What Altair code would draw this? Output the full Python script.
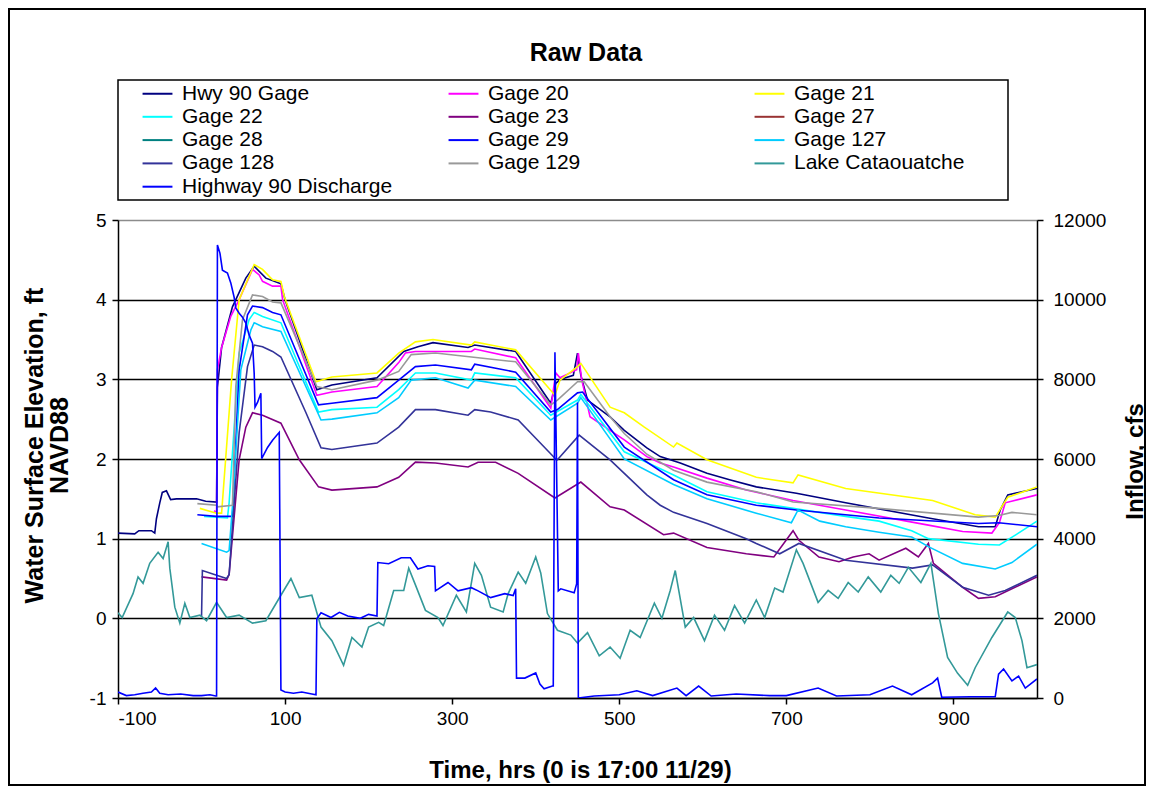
import altair as alt
import pandas as pd

FONT = "Liberation Sans"

series_names = ["Hwy 90 Gage", "Gage 20", "Gage 21", "Gage 22", "Gage 23", "Gage 27",
                "Gage 28", "Gage 29", "Gage 127", "Gage 128", "Gage 129",
                "Lake Cataouatche", "Highway 90 Discharge"]
series_colors = ["#000080", "#FF00FF", "#FFFF00", "#00FFFF", "#800080", "#993333",
                 "#008080", "#0000FF", "#00CCFF", "#333399", "#999999",
                 "#339999", "#0000FF"]

x_ticks = [-100, 100, 300, 500, 700, 900]
y_ticks = [-1, 0, 1, 2, 3, 4, 5]
cfs_ticks = [0, 2000, 4000, 6000, 8000, 10000, 12000]

hwy90_t = [-100, -80, -75, -60, -56, -54, -50, -47, -42, -37, -30, -6, 5, 18, 19, 24, 37, 53, 63, 77,
           95, 100, 138, 156, 210, 242, 259, 277, 319, 327, 376, 418, 424, 430, 445, 450, 454, 462, 489, 506,
           533, 549, 573, 605, 632, 664, 712, 771, 870, 930, 950, 956, 965, 1000]
hwy90_v = [1.07, 1.06, 1.10, 1.10, 1.07, 1.25, 1.45, 1.58, 1.60, 1.49, 1.50, 1.50, 1.47, 1.46, 2.90, 3.40, 3.91, 4.27, 4.42, 4.27,
           4.20, 4.00, 2.87, 2.93, 3.02, 3.35, 3.41, 3.46, 3.40, 3.43, 3.35, 2.70, 2.95, 3.00, 3.05, 3.33, 3.05, 2.74, 2.53, 2.36,
           2.14, 2.03, 1.95, 1.82, 1.74, 1.65, 1.57, 1.45, 1.26, 1.15, 1.15, 1.36, 1.55, 1.63]

g20_t = [15, 18, 19, 24, 35, 45, 61, 69, 73, 85, 95, 97, 138, 156, 210, 236, 244, 256, 323, 327,
         376, 418, 424, 429, 445, 449, 451, 455, 465, 489, 506, 533, 549, 565, 605, 652, 708, 771, 870, 911,
         946, 955, 962, 1000]
g20_v = [1.35, 1.33, 3.12, 3.40, 3.79, 4.00, 4.38, 4.31, 4.23, 4.17, 4.17, 4.00, 2.80, 2.84, 2.91, 3.21, 3.33, 3.35, 3.35, 3.38,
         3.27, 2.64, 3.08, 3.02, 3.10, 3.12, 3.33, 3.00, 2.53, 2.36, 2.24, 2.03, 1.95, 1.90, 1.76, 1.61, 1.48, 1.36, 1.17, 1.09,
         1.07, 1.20, 1.45, 1.55]

g21_t = [-2, 18, 24, 36, 45, 63, 73, 85, 95, 99, 137, 156, 210, 236, 256, 277, 323, 327, 346, 376,
         423, 429, 450, 454, 489, 506, 530, 565, 569, 605, 664, 708, 714, 771, 875, 926, 950, 965, 1000]
g21_v = [1.38, 1.32, 1.32, 3.00, 4.00, 4.44, 4.38, 4.25, 4.23, 4.04, 2.97, 3.03, 3.08, 3.33, 3.47, 3.50, 3.43, 3.47, 3.43, 3.37,
         2.80, 2.99, 3.16, 3.20, 2.65, 2.58, 2.40, 2.15, 2.20, 1.99, 1.77, 1.70, 1.80, 1.63, 1.48, 1.30, 1.27, 1.52, 1.65]

g22_t = [3, 18, 31, 33, 45, 57, 63, 73, 95, 140, 156, 210, 236, 256, 280, 323, 327, 376, 418, 450,
         454, 506, 565, 605, 664, 708, 771, 811, 850, 870, 930, 955, 975, 1000]
g22_v = [1.28, 1.27, 1.26, 1.45, 3.33, 3.75, 3.84, 3.79, 3.71, 2.59, 2.62, 2.65, 2.87, 3.08, 3.08, 2.99, 3.08, 3.02, 2.55, 2.74,
         2.81, 2.09, 1.80, 1.59, 1.45, 1.38, 1.28, 1.22, 1.10, 1.00, 0.93, 0.92, 1.05, 1.22]

g23_t = [0, 30, 33, 45, 53, 61, 73, 95, 117, 140, 156, 210, 236, 256, 280, 319, 331, 352, 379, 423,
         454, 489, 506, 553, 565, 605, 652, 685, 708, 715, 739, 763, 780, 799, 811, 843, 858, 870, 876, 911,
         930, 950, 1000]
g23_v = [0.52, 0.48, 0.55, 1.99, 2.40, 2.58, 2.55, 2.45, 1.99, 1.65, 1.61, 1.65, 1.77, 1.96, 1.95, 1.90, 1.96, 1.96, 1.82, 1.51,
         1.71, 1.40, 1.36, 1.05, 1.07, 0.89, 0.81, 0.77, 1.10, 0.98, 0.77, 0.71, 0.77, 0.81, 0.73, 0.88, 0.77, 0.94, 0.69, 0.39,
         0.25, 0.27, 0.52]

g29_t = [-5, 18, 37, 45, 55, 61, 73, 85, 95, 140, 156, 210, 236, 256, 280, 323, 327, 376, 418, 426,
         450, 456, 506, 565, 605, 664, 712, 811, 930, 954, 1000]
g29_v = [1.30, 1.28, 1.28, 3.12, 3.81, 3.92, 3.90, 3.84, 3.81, 2.68, 2.70, 2.77, 2.99, 3.16, 3.18, 3.12, 3.19, 3.09, 2.59, 2.62,
         2.83, 2.84, 2.15, 1.74, 1.55, 1.42, 1.36, 1.26, 1.19, 1.20, 1.15]

g127_t = [0, 30, 33, 37, 47, 59, 63, 73, 95, 143, 156, 210, 236, 251, 280, 319, 327, 376, 418, 450,
          454, 506, 565, 605, 664, 706, 714, 740, 771, 811, 850, 870, 911, 950, 970, 1000]
g127_v = [0.94, 0.83, 0.85, 1.40, 3.12, 3.62, 3.71, 3.66, 3.60, 2.49, 2.50, 2.58, 2.77, 2.99, 3.02, 2.89, 2.99, 2.91, 2.49, 2.70,
          2.77, 2.00, 1.68, 1.50, 1.32, 1.20, 1.36, 1.22, 1.15, 1.08, 1.02, 0.90, 0.69, 0.62, 0.70, 0.93]

g128_t = [0, 1, 30, 33, 45, 55, 63, 73, 85, 95, 125, 143, 156, 210, 236, 256, 280, 319, 327, 346,
          379, 423, 426, 452, 489, 506, 533, 549, 565, 605, 652, 664, 692, 715, 771, 851, 875, 911, 942, 962,
          1000]
g128_v = [0.02, 0.60, 0.50, 0.55, 2.33, 3.16, 3.43, 3.41, 3.35, 3.28, 2.58, 2.14, 2.12, 2.20, 2.40, 2.62, 2.62, 2.55, 2.62, 2.59,
          2.49, 2.01, 1.99, 2.30, 1.99, 1.82, 1.55, 1.42, 1.33, 1.19, 1.00, 0.94, 0.81, 0.94, 0.73, 0.63, 0.67, 0.39, 0.29, 0.35,
          0.54]

g129_t = [-5, 18, 19, 37, 41, 49, 61, 73, 85, 95, 138, 156, 210, 236, 251, 280, 323, 376, 418, 426,
          450, 458, 489, 506, 533, 565, 605, 664, 708, 811, 930, 954, 970, 1000]
g129_v = [1.44, 1.42, 1.40, 1.42, 2.91, 3.75, 4.06, 4.04, 3.97, 3.96, 2.91, 2.87, 2.99, 3.10, 3.31, 3.33, 3.28, 3.22, 2.68, 2.74,
          2.97, 2.97, 2.53, 2.32, 2.06, 1.86, 1.71, 1.59, 1.46, 1.38, 1.27, 1.29, 1.33, 1.30]

lake_t = [-100, -95, -82, -76, -70, -62, -52, -46, -40, -38, -32, -26, -20, -14, -2, 6, 18, 30, 45, 61,
          77, 95, 107, 117, 132, 143, 156, 170, 180, 192, 200, 212, 218, 230, 242, 248, 256, 268, 283, 289,
          305, 317, 327, 335, 346, 361, 367, 379, 388, 400, 406, 414, 426, 442, 450, 462, 476, 489, 501, 513,
          525, 542, 551, 561, 567, 579, 589, 602, 614, 626, 638, 650, 664, 674, 686, 696, 712, 720, 738, 750,
          762, 774, 786, 798, 813, 825, 835, 846, 861, 873, 882, 893, 905, 917, 926, 946, 965, 974, 982, 988,
          1000]
lake_v = [0.07, 0.01, 0.31, 0.52, 0.44, 0.69, 0.83, 0.75, 0.96, 0.63, 0.14, -0.06, 0.19, 0.01, 0.04, -0.03, 0.20, 0.01, 0.04, -0.06,
          -0.03, 0.29, 0.50, 0.26, 0.29, -0.11, -0.28, -0.59, -0.24, -0.36, -0.11, -0.05, -0.09, 0.35, 0.35, 0.63, 0.42, 0.10, 0.01, -0.09,
          0.29, 0.08, 0.69, 0.54, 0.14, 0.08, 0.31, 0.58, 0.44, 0.77, 0.57, 0.06, -0.15, -0.21, -0.31, -0.18, -0.47, -0.36, -0.50, -0.15,
          -0.24, 0.19, 0.00, 0.35, 0.60, -0.11, 0.01, -0.28, 0.04, -0.15, 0.16, -0.06, 0.23, 0.01, 0.38, 0.33, 0.86, 0.69, 0.20, 0.35,
          0.25, 0.45, 0.33, 0.52, 0.33, 0.54, 0.44, 0.64, 0.45, 0.69, 0.06, -0.49, -0.69, -0.84, -0.62, -0.24, 0.08, 0.01, -0.28, -0.62,
          -0.58]

dis_t = [-100, -90, -80, -70, -60, -55, -50, -40, -25, -10, 0, 10, 17, 18, 19, 22, 25, 31, 35, 39,
         41, 45, 49, 53, 57, 61, 63, 64, 67, 71, 72, 79, 85, 93, 94, 95, 100, 110, 120, 132,
         137, 138, 143, 155, 165, 175, 190, 200, 210, 211, 224, 239, 250, 259, 271, 279, 280, 295, 307, 323,
         331, 346, 363, 373, 376, 377, 387, 400, 405, 410, 420, 421, 423, 427, 430, 446, 449, 450, 451, 470,
         500, 521, 540, 569, 580, 595, 610, 640, 680, 700, 738, 760, 800, 827, 850, 875, 881, 886, 920, 950,
         954, 960, 970, 978, 986, 1000]
dis_v = [150, 60, 80, 120, 150, 250, 120, 80, 100, 60, 60, 80, 50, 50, 11370, 11170, 10740, 10670, 10420, 10060,
         9790, 9660, 9560, 9410, 9110, 8910, 8150, 7300, 7420, 7650, 6010, 6290, 6470, 6670, 3500, 200, 150, 120, 150, 100,
         80, 1990, 2140, 2020, 2150, 2060, 2000, 2100, 2060, 3400, 3370, 3520, 3520, 3240, 3320, 3300, 2690, 2900, 2690, 2770,
         2690, 2520, 2620, 2570, 2740, 500, 500, 630, 350, 230, 300, 300, 8680, 2690, 2740, 2640, 2870, 7420, 0, 50,
         80, 180, 60, 250, 60, 300, 50, 100, 60, 60, 250, 50, 80, 300, 80, 380, 500, 20, 30, 30,
         600, 730, 430, 550, 250, 480]

elev_series = [
    ("Hwy 90 Gage", hwy90_t, hwy90_v),
    ("Gage 20", g20_t, g20_v),
    ("Gage 21", g21_t, g21_v),
    ("Gage 22", g22_t, g22_v),
    ("Gage 23", g23_t, g23_v),
    ("Gage 29", g29_t, g29_v),
    ("Gage 127", g127_t, g127_v),
    ("Gage 128", g128_t, g128_v),
    ("Gage 129", g129_t, g129_v),
    ("Lake Cataouatche", lake_t, lake_v),
]

rows = []
for name, ts, vs in elev_series:
    for t, v in zip(ts, vs):
        rows.append({"series": name, "hrs": t, "elev": v})
elev_df = pd.DataFrame(rows)
dis_df = pd.DataFrame({"series": "Highway 90 Discharge", "hrs": dis_t, "cfs": dis_v})

legend = alt.Legend(
    title=None, orient="none", direction="horizontal", legendX=27, legendY=-139, columns=3,
    gridAlign="all", columnPadding=51, rowPadding=0.3, padding=0,
    symbolType="M-1.3,0L1.3,0", symbolSize=529, symbolStrokeWidth=2,
    labelFont=FONT, labelFontSize=21, labelColor="black",
    labelLimit=400, labelOffset=12,
)
color = alt.Color("series:N", scale=alt.Scale(domain=series_names, range=series_colors), legend=legend)

x_enc = alt.X(
    "hrs:Q",
    scale=alt.Scale(domain=[-100, 1000], nice=False, zero=False),
    axis=alt.Axis(
        values=x_ticks, grid=False, title="Time, hrs (0 is 17:00 11/29)",
        labelExpr="'' + datum.value", labelFont=FONT, labelFontSize=19, labelColor="black",
        labelPadding=5, tickSize=6, tickColor="black", tickWidth=1.5,
        domainColor="black", domainWidth=1.5,
        titleFont=FONT, titleFontSize=24, titleFontWeight="bold", titleColor="black",
        titleX=462, titleY=72, titleBaseline="middle", titleAlign="center",
    ),
)

left = alt.Chart(elev_df).mark_line(strokeWidth=1.6, clip=True).encode(
    x=x_enc,
    y=alt.Y(
        "elev:Q",
        scale=alt.Scale(domain=[-1, 5], nice=False, zero=False),
        axis=alt.Axis(
            orient="left", values=y_ticks, grid=True,
            gridColor={"condition": {"test": "datum.value === 5", "value": "#8c8c8c"}, "value": "black"},
            gridWidth=1.5, labelExpr="'' + datum.value", labelFont=FONT, labelFontSize=19,
            labelColor="black", labelPadding=6, tickSize=6, tickColor="black", tickWidth=1.5,
            domainColor="black", domainWidth=1.5,
            title=["Water Surface Elevation, ft", "NAVD88"], titleFont=FONT, titleFontSize=25,
            titleFontWeight="bold", titleColor="black", titleAngle=270, titleX=-84, titleY=225,
            titleAlign="center", titleBaseline="middle", titleLineHeight=25,
        ),
    ),
    color=color,
)

right = alt.Chart(dis_df).mark_line(strokeWidth=1.6, clip=True).encode(
    x=x_enc,
    y=alt.Y(
        "cfs:Q",
        scale=alt.Scale(domain=[0, 12000], nice=False, zero=True),
        axis=alt.Axis(
            orient="right", values=cfs_ticks, grid=False, labelExpr="'' + datum.value",
            labelFont=FONT, labelFontSize=19, labelColor="black", labelPadding=10,
            tickSize=6, tickColor="black", tickWidth=1.5, domainColor="black", domainWidth=1.5,
            title="Inflow, cfs", titleFont=FONT, titleFontSize=24, titleFontWeight="bold",
            titleColor="black", titleAngle=270, titleX=98, titleY=241,
            titleAlign="center", titleBaseline="middle",
        ),
    ),
    color=color,
)

one = pd.DataFrame({"k": [0]})
frame = alt.Chart(one).mark_rect(fill="white", fillOpacity=0, stroke="black", strokeWidth=2).encode(
    x=alt.value(-109), x2=alt.value(1027), y=alt.value(-211), y2=alt.value(565)
)
legend_box = alt.Chart(one).mark_rect(fill="white", fillOpacity=0, stroke="black", strokeWidth=1.5).encode(
    x=alt.value(0), x2=alt.value(890), y=alt.value(-140), y2=alt.value(-20)
)
title = alt.Chart(one).mark_text(
    text="Raw Data", font=FONT, fontSize=25, fontWeight="bold", color="black",
    align="center", baseline="middle",
).encode(x=alt.value(468), y=alt.value(-167))

chart = alt.layer(left, right, legend_box, frame, title).resolve_scale(
    y="independent"
).properties(
    width=919, height=478,
    padding={"left": 110, "top": 212, "right": 109, "bottom": 88},
    autosize=alt.AutoSizeParams(type="none"),
    background="white",
).configure_view(stroke="transparent")

chart.save("out.html", embed_options={"renderer": "svg", "actions": False})
